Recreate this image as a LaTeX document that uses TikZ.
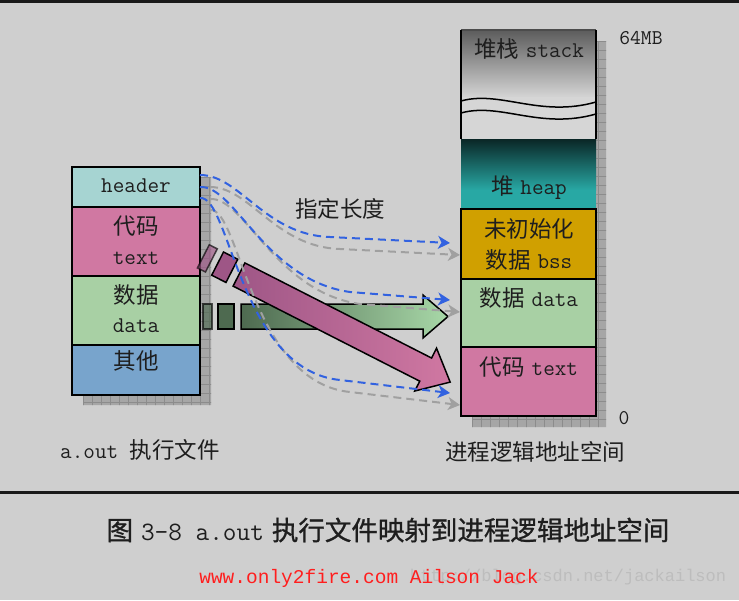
\documentclass[tikz,border=0pt]{standalone}
\usepackage{fontspec}
\newfontfamily\cjk{Noto Sans CJK SC}
\newfontfamily\cjkb[FakeBold=1]{Noto Sans CJK SC}
\newfontfamily\cmono{Liberation Mono}
\usetikzlibrary{arrows.meta}
\newcommand\setfs[1]{\fontsize{#1}{#1}\selectfont}
\definecolor{bgc}{HTML}{CFCFCF}
\definecolor{txt}{HTML}{1E1E1E}
\definecolor{hdrc}{HTML}{A6D4D2}
\definecolor{pinkc}{HTML}{D078A2}
\definecolor{greenc}{HTML}{A8D0A4}
\definecolor{bluec}{HTML}{78A4CC}
\definecolor{bssc}{HTML}{D0A000}
\definecolor{heapdark}{HTML}{0A2626}
\definecolor{heapteal}{HTML}{28A8A4}
\definecolor{stackdark}{HTML}{5C5C5C}
\definecolor{stacklight}{HTML}{D6D6D6}
\definecolor{shadc}{HTML}{A6A6A6}
\definecolor{gridc}{HTML}{8C8C8C}
\definecolor{dblue}{HTML}{3262E0}
\definecolor{dgray}{HTML}{A0A0A0}
\definecolor{pinkA}{HTML}{9E5686}
\definecolor{greenA}{HTML}{4E6A50}
\definecolor{greenB}{HTML}{A8D8A8}
\definecolor{wmc}{HTML}{BDBDBD}
\definecolor{redc}{HTML}{FF1E1E}
\begin{document}
\begin{tikzpicture}[x=1pt,y=-1pt,
  box/.style={draw=black, line width=1.6pt, anchor=north west, inner sep=0pt, outer sep=0pt},
  lbl/.style={text=txt, inner sep=0pt, font=\setfs{22.5}},
  bigarrow/.style={draw=black, line width=1.5pt, line join=miter},
  bluedash/.style={draw=dblue, line width=2pt, dash pattern=on 8pt off 5pt,
    -{Stealth[length=12pt,width=13pt,inset=3.5pt]}},
  graydash/.style={draw=dgray, line width=2pt, dash pattern=on 8pt off 5pt,
    -{Stealth[length=12pt,width=13pt,inset=3.5pt]}},
  gridline/.style={draw=gridc, line width=0.5pt}
]
\useasboundingbox (0,0) rectangle (739,600);
\fill[bgc] (0,0) rectangle (739,600);
% top and bottom rules
\fill[black!90] (0,0) rectangle (739,2.5);
\fill[black!90] (0,491) rectangle (739,493.5);

% ---------- shadows ----------
\begin{scope}
  \clip (200,177) -- (211,177) -- (211,405) -- (83,405) -- (83,395) -- (200,395) -- cycle;
  \fill[shadc] (80,170) rectangle (215,410);
  \foreach \i in {83,92,...,215} \draw[gridline] (\i,170) -- (\i,410);
  \foreach \j in {177,186,...,410} \draw[gridline] (80,\j) -- (215,\j);
\end{scope}
\begin{scope}
  \clip (596,41) -- (606,41) -- (606,427) -- (472,427) -- (472,416) -- (596,416) -- cycle;
  \fill[shadc] (470,38) rectangle (610,430);
  \foreach \i in {472,481,...,610} \draw[gridline] (\i,38) -- (\i,430);
  \foreach \j in {41,50,...,430} \draw[gridline] (470,\j) -- (610,\j);
\end{scope}

% ---------- left: a.out ----------
\node[box, fill=hdrc,  minimum width=128pt, minimum height=40pt] (hdr) at (72,167) {};
\node[box, fill=pinkc, minimum width=128pt, minimum height=69pt] (ltext) at (72,207) {};
\node[box, fill=greenc,minimum width=128pt, minimum height=69pt] (ldata) at (72,276) {};
\node[box, fill=bluec, minimum width=128pt, minimum height=50pt] (lother) at (72,345) {};
\node[lbl] (tHdr) at (136,186) {\ttfamily header};
\node[lbl] (tCode) at (136,226) {\cjk 代码};
\node[lbl] (tText) at (136,258) {\ttfamily text};
\node[lbl] (tShuju) at (136,295) {\cjk 数据};
\node[lbl] (tData) at (136,326) {\ttfamily data};
\node[lbl] (tOther) at (136,361) {\cjk 其他};
\node[lbl] (tAout) at (140,450) {\ttfamily a.out {\cjk 执行文件}};

% ---------- right: address space ----------
\shade[top color=stackdark, bottom color=stacklight] (461,30) rectangle (596,98);
\fill[stacklight] (461,97) rectangle (596,139);
\draw[line width=1.5pt] (461,101) .. controls (500,90) and (540,118) .. (596,102);
\draw[line width=1.5pt] (461,113) .. controls (500,102) and (540,130) .. (596,114);
\shade[top color=heapdark, bottom color=heapteal] (461,139) rectangle (596,190);
\fill[heapteal] (461,189.5) rectangle (596,208);
\draw[line width=1.2pt, black!70] (461,30) -- (596,30);
\draw[line width=1.6pt] (461,30) -- (461,139);
\draw[line width=1.6pt] (596,30) -- (596,139);
\node[box, fill=bssc,  minimum width=135pt, minimum height=70pt] (rbss) at (461,209) {};
\node[box, fill=greenc,minimum width=135pt, minimum height=68pt] (rdata) at (461,279) {};
\node[box, fill=pinkc, minimum width=135pt, minimum height=69pt] (rtext) at (461,347) {};
\node[lbl] (tStack) at (529,49) {{\cjk 堆栈} \ttfamily stack};
\node[lbl] (tHeap) at (529,188) {{\cjk 堆} \ttfamily heap};
\node[lbl] (tBss1) at (529,229) {\cjk 未初始化};
\node[lbl] (tBss2) at (529,260) {{\cjk 数据} \ttfamily bss};
\node[lbl] (tRdata) at (529,298) {{\cjk 数据} \ttfamily data};
\node[lbl] (tRtext) at (529,367) {{\cjk 代码} \ttfamily text};
\node[lbl, font=\setfs{21}] (t64) at (641,38) {\ttfamily 64MB};
\node[lbl, font=\setfs{21}] (t0) at (624,418) {\ttfamily 0};
\node[lbl] (tProc) at (535,452) {\cjk 进程逻辑地址空间};
\node[lbl] (tLen) at (340,209) {\cjk 指定长度};

% ---------- big arrows ----------
\draw[bigarrow, left color=greenA, middle color=greenA!55!greenB, right color=greenB]
  (241,304) -- (423,304) -- (423,295) -- (448,316.5) -- (423,338) -- (423,329) -- (241,329) -- cycle;
\draw[bigarrow, fill=greenA] (218,304) rectangle (234,329);
\draw[bigarrow, fill=greenA, opacity=.65] (203,304) rectangle (212,329);
\begin{scope}[shift={(239,274.5)}, rotate=-27]
  \draw[bigarrow, left color=pinkA, right color=pinkc]
    (0,-13) -- (209.5,-13) -- (209.5,-24) -- (237,0) -- (209.5,24) -- (209.5,13) -- (0,13) -- cycle;
  \draw[bigarrow, fill=pinkA] (-24,-13) -- (-8,-13) -- (-8,13) -- (-24,13) -- cycle;
  \draw[bigarrow, fill=pinkA, opacity=.65] (-40,-13) -- (-31,-13) -- (-31,13) -- (-40,13) -- cycle;
\end{scope}

% ---------- dashed mapping curves ----------
\coordinate (g1s) at (210,187); \coordinate (g1e) at (460,255);
\coordinate (g2s) at (210,199); \coordinate (g2e) at (460,312);
\coordinate (g3s) at (210,210); \coordinate (g3e) at (460,405);
\coordinate (b1s) at (200,175); \coordinate (b1e) at (450,243);
\coordinate (b2s) at (200,187); \coordinate (b2e) at (450,300);
\coordinate (b3s) at (200,198); \coordinate (b3e) at (450,393);
\draw[graydash] (g1s) .. controls (250,187) and (275,247) .. (340,249) -- (g1e);
\draw[graydash] (g2s) .. controls (245,197) and (275,292) .. (360,304) -- (g2e);
\draw[graydash] (g3s) .. controls (240,207) and (250,382) .. (350,392) -- (g3e);
\draw[bluedash] (b1s) .. controls (240,175) and (265,235) .. (330,237) -- (b1e);
\draw[bluedash] (b2s) .. controls (235,185) and (265,280) .. (350,292) -- (b2e);
\draw[bluedash] (b3s) .. controls (230,195) and (240,370) .. (340,380) -- (b3e);

% ---------- caption ----------
\node[text=txt, inner sep=0pt, font=\setfs{26.5}] (cap) at (388,530)
  {{\cjkb 图} {\ttfamily 3-8 a.out} {\cjkb 执行文件映射到进程逻辑地址空间}};
\node[text=wmc, inner sep=0pt, font=\cmono\setfs{17}] (wm) at (568,577) {http://blog.csdn.net/jackailson};
\node[text=redc, inner sep=0pt, font=\cmono\setfs{19.5}] (url) at (369,578) {www.only2fire.com Ailson Jack};
\end{tikzpicture}
\end{document}
